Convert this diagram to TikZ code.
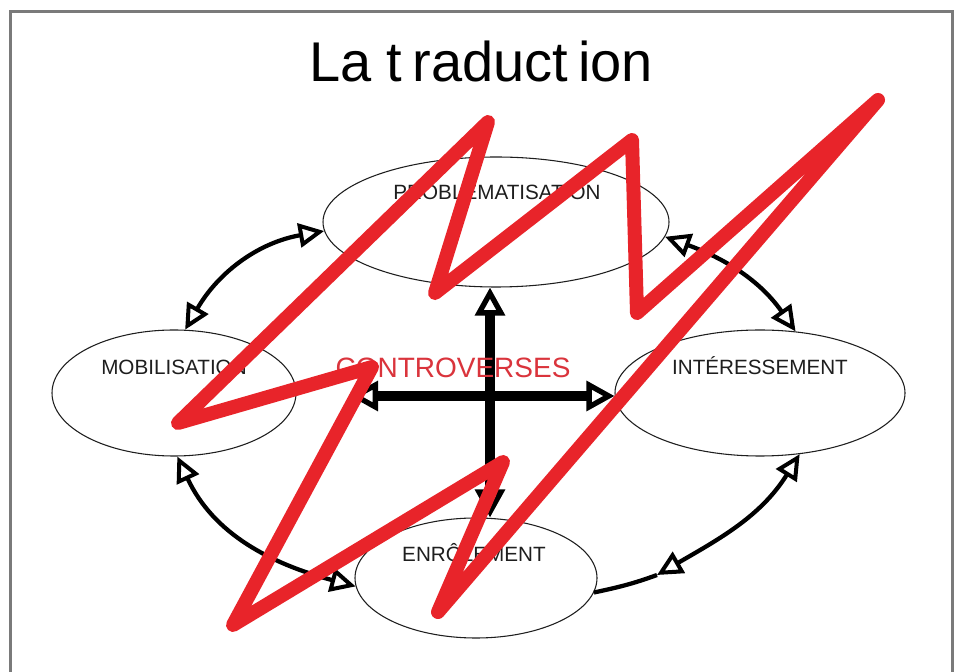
\documentclass[tikz,border=0pt]{standalone}
\usepackage{fontspec}
\setmainfont{Liberation Sans}
\usetikzlibrary{arrows.meta,shapes.geometric}
\definecolor{framegray}{RGB}{122,122,122}
\definecolor{zigred}{RGB}{232,36,42}
\definecolor{contred}{RGB}{218,52,60}
\definecolor{inkgray}{RGB}{30,30,30}
\tikzset{
  smallhead/.tip={Triangle[open,length=19pt,width=18pt,line width=3pt]},
  bighead/.tip={Triangle[open,length=21pt,width=22pt,line width=4pt]}
}
\begin{document}
\begin{tikzpicture}[x=0.75pt,y=0.75pt,
  bubble/.style={ellipse, draw=inkgray, line width=0.8pt, inner sep=0pt},
  caption/.style={anchor=base, inner sep=0pt, text=inkgray, font=\fontsize{15.5}{18}\selectfont},
  link/.style={line width=3.2pt, black},
  crossbar/.style={line width=7pt, black, {bighead}-{bighead}}
]
% page and frame
\fill[white] (0,0) rectangle (960,671);
\useasboundingbox (0,0) rectangle (960,671);
\draw[framegray, line width=2.25pt] (10.5,-10) -- (10.5,659.5) -- (952.5,659.5) -- (952.5,-10);

% title
\node[anchor=base, inner sep=0pt, text=black, font=\fontsize{42}{48}\selectfont] (title) at (481,589) {La t\kern.18em raduct\kern.18em ion};

% the four stages
\node[bubble, minimum width=259.5pt, minimum height=97.5pt] (prob) at (496,449) {};
\node[caption] (probtxt) at (497,471) {PROBLEMATISATION};
\node[bubble, minimum width=183pt, minimum height=94.5pt] (mob) at (174,278) {};
\node[caption] (mobtxt) at (174,296) {MOBILISATION};
\node[bubble, minimum width=217.5pt, minimum height=94.5pt] (inter) at (760,278) {};
\node[caption] (intertxt) at (760,296) {INTÉRESSEMENT};
\node[bubble, minimum width=181.5pt, minimum height=90pt] (enr) at (476,93) {};
\node[caption] (enrtxt) at (474,109) {ENRÔLEMENT};

% links around the cycle
\draw[link, {smallhead}-{smallhead}] (mob.80) to[out=60, in=190] (prob.183);
\draw[link, {smallhead}-{smallhead}] (prob.355) to[out=-20, in=125] (inter.60);
\draw[link, {smallhead}-{smallhead}] (mob.273) to[out=-65, in=165] (enr.184);
\coordinate (ienr) at (657,96);
\draw[link, {smallhead}-{smallhead}] (inter.303) to[out=238, in=30] (ienr);
\draw[link] (ienr) to[out=200, in=12] (enr.353);

% central cross
\coordinate (hub) at (490,275);
\coordinate (hubleft) at (350,275);
\draw[crossbar] (hub |- enr.north) -- (hub |- prob.south);
\draw[crossbar] (hubleft) -- (hub -| inter.west);
\node[anchor=base, inner sep=0pt, text=contred, font=\fontsize{21}{24}\selectfont] (contro) at (453,293) {CONTROVERSES};

% red zigzag stroke over everything
\draw[zigred, line width=10.5pt, line join=round, line cap=round]
  (878,571) -- (637,358) -- (632,531) -- (435,378) -- (488,549) -- (178,248)
  -- (372,304) -- (233,46) -- (503,209) -- (438,59) -- cycle;
\end{tikzpicture}
\end{document}
